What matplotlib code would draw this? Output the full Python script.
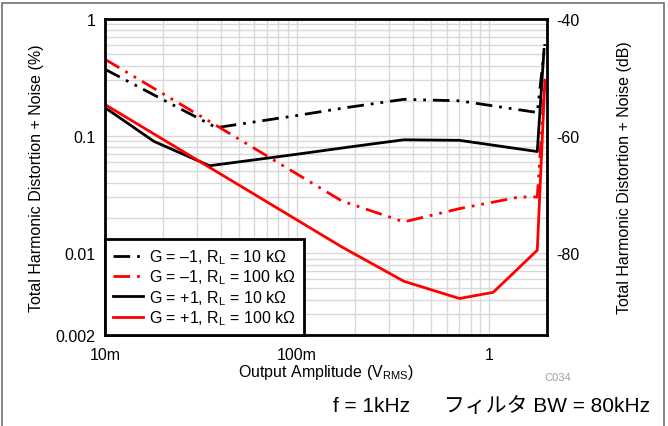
import numpy as np
import matplotlib
matplotlib.use("Agg")
import matplotlib.pyplot as plt
from matplotlib.patches import Rectangle
from matplotlib.ticker import FixedLocator, NullFormatter, LogLocator

plt.rcParams['font.family'] = ['Liberation Sans', 'Noto Sans CJK JP', 'DejaVu Sans']
plt.rcParams['mathtext.fontset'] = 'custom'
plt.rcParams['mathtext.rm'] = 'Liberation Sans'
plt.rcParams['mathtext.it'] = 'Liberation Sans'

# THD+N vs output amplitude, f = 1 kHz
x_inv_10k = [0.01, 0.02, 0.038, 0.1, 0.18, 0.36, 0.7, 1.78, 1.95]
thd_inv_10k = [0.372, 0.205, 0.118, 0.15, 0.175, 0.206, 0.2, 0.159, 0.61]

x_inv_100k = [0.01, 0.04, 0.171, 0.36, 0.7, 1.44, 1.78, 1.95]
thd_inv_100k = [0.453, 0.117, 0.0279, 0.0185, 0.024, 0.0302, 0.0302, 0.30]

x_noninv_10k = [0.01, 0.018, 0.035, 0.1, 0.18, 0.36, 0.7, 1.78, 1.93]
thd_noninv_10k = [0.175, 0.09, 0.0558, 0.07, 0.08, 0.093, 0.092, 0.0738, 0.55]

x_noninv_100k = [0.01, 0.171, 0.36, 0.7, 1.05, 1.78, 1.95]
thd_noninv_100k = [0.186, 0.0113, 0.00575, 0.0041, 0.00463, 0.0106, 0.30]

labels = [r'G = –1, R$_\mathregular{L}$ = 10 kΩ',
          r'G = –1, R$_\mathregular{L}$ = 100 kΩ',
          r'G = +1, R$_\mathregular{L}$ = 10 kΩ',
          r'G = +1, R$_\mathregular{L}$ = 100 kΩ']

xticks = [0.01, 0.1, 1]
xticklabels = ['10m', '100m', '1']
yticks = [0.002, 0.01, 0.1, 1]
yticklabels = ['0.002', '0.01', '0.1', '1']
db_ticks = [-40, -60, -80]

W, H = 668, 427
fig = plt.figure(figsize=(W / 100, H / 100), dpi=100)
ax = fig.add_axes([105 / W, 1 - 336 / H, 442 / W, 316 / H])

dashdot = (0, (6, 2.5, 1, 2.5, 1, 2.5))
ax.plot(x_inv_10k, thd_inv_10k, color='black', lw=2, linestyle=dashdot, label=labels[0])
ax.plot(x_inv_100k, thd_inv_100k, color='#ff0000', lw=2, linestyle=dashdot, label=labels[1])
ax.plot(x_noninv_10k, thd_noninv_10k, color='black', lw=2, label=labels[2])
ax.plot(x_noninv_100k, thd_noninv_100k, color='#ff0000', lw=2, label=labels[3])

ax.set_xscale('log')
ax.set_yscale('log')
ax.set_xlim(0.01, 2)
ax.set_ylim(0.002, 1)

ax.xaxis.set_major_locator(FixedLocator(xticks))
ax.set_xticklabels(xticklabels)
ax.xaxis.set_minor_locator(LogLocator(base=10, subs=np.arange(2, 10)))
ax.xaxis.set_minor_formatter(NullFormatter())
ax.yaxis.set_major_locator(FixedLocator(yticks))
ax.set_yticklabels(yticklabels)
ax.yaxis.set_minor_locator(LogLocator(base=10, subs=np.arange(2, 10)))
ax.yaxis.set_minor_formatter(NullFormatter())

ax.grid(True, which='both', color='#d9d9d9', lw=1)
ax.set_axisbelow(True)
ax.tick_params(which='both', length=0, labelsize=11.5)
ax.tick_params(axis='y', pad=7)
ax.tick_params(axis='x', pad=9)
for s in ax.spines.values():
    s.set_linewidth(2)
    s.set_color('black')

ax2 = ax.twinx()
ax2.set_ylim(20 * np.log10(0.002 / 100), -40)
ax2.set_yticks(db_ticks)
ax2.set_yticklabels([str(t) for t in db_ticks])
ax2.tick_params(length=0, labelsize=11.5, pad=7)
for s in ax2.spines.values():
    s.set_visible(False)

leg = ax.legend(loc='lower left', bbox_to_anchor=(0, 0), borderaxespad=0,
                fontsize=11.5, frameon=True, fancybox=False, edgecolor='black',
                handlelength=1.9, handletextpad=0.35, labelspacing=0.1,
                borderpad=0.5)
leg.get_frame().set_linewidth(2)
leg.get_frame().set_alpha(1)

fig.text(37 / W, 1 - 178 / H, 'Total Harmonic Distortion + Noise (%)', rotation=90,
         ha='center', va='center', fontsize=11.5)
fig.text(625 / W, 1 - 178 / H, 'Total Harmonic Distortion + Noise (dB)', rotation=90,
         ha='center', va='center', fontsize=11.5)
fig.text(326 / W, 1 - 373 / H, r'Output Amplitude (V$_\mathregular{RMS}$)',
         ha='center', va='center', fontsize=11.5)
fig.text(558 / W, 1 - 378 / H, 'C034', ha='center', va='center', fontsize=8, color='#a0a0a0')
fig.text(333 / W, 1 - 407 / H, 'f = 1kHz', ha='left', va='center', fontsize=15)
fig.text(650 / W, 1 - 407 / H, 'フィルタ BW = 80kHz', ha='right', va='center', fontsize=15)

fig.patches.append(Rectangle((1.5 / W, -0.05), 662.5 / W, 1.05 - 3.5 / H,
                             transform=fig.transFigure, fill=False,
                             edgecolor='#707070', lw=1.2, clip_on=False))

fig.savefig('out.png', dpi=100)
